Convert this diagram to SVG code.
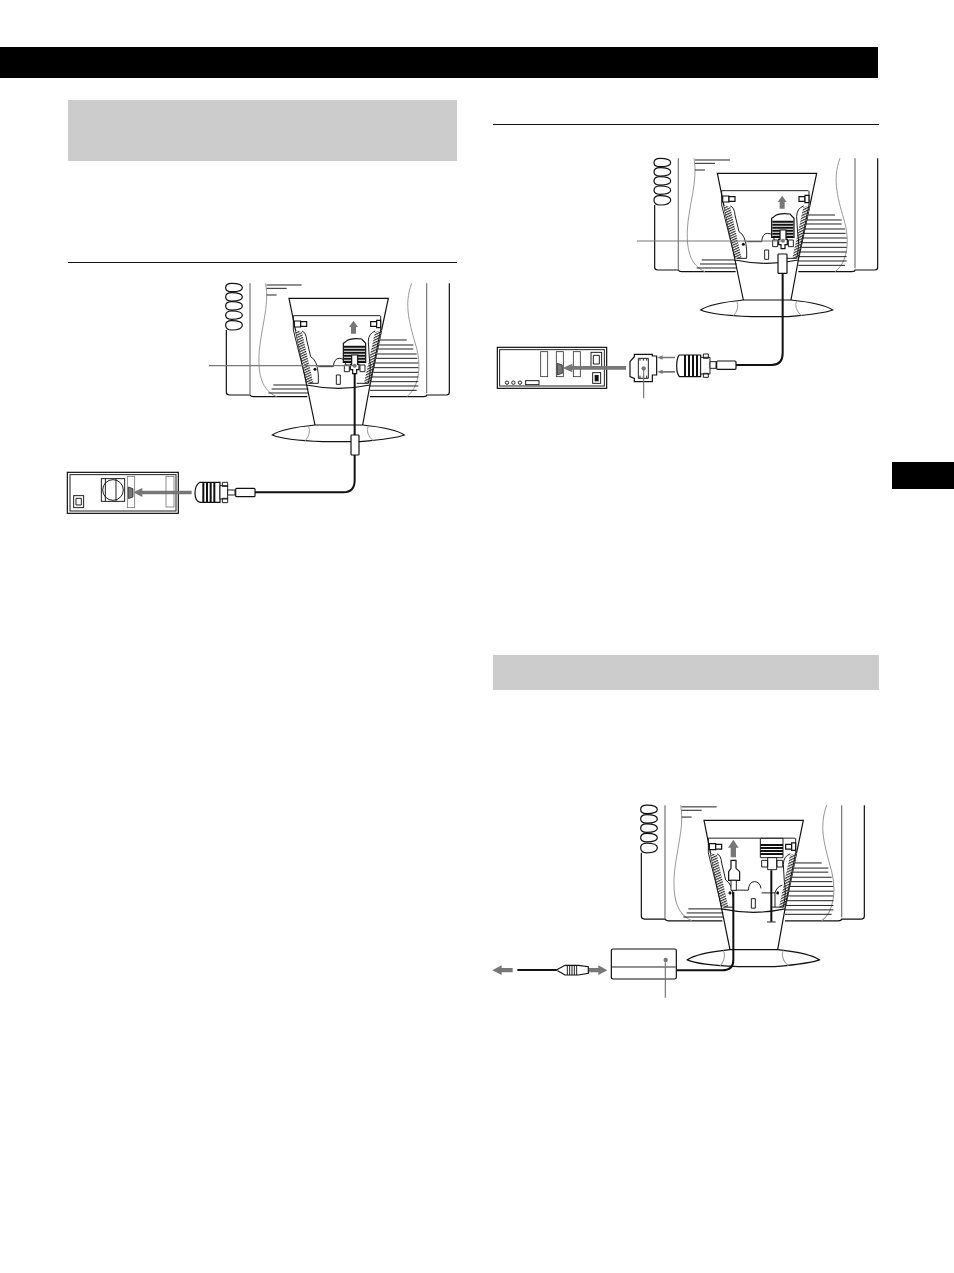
<svg xmlns="http://www.w3.org/2000/svg" width="954" height="1273" viewBox="0 0 954 1273">
<style>
.l{fill:none;stroke:#111;stroke-width:3.6}
.t{fill:none;stroke:#111;stroke-width:2.8}
.g{fill:none;stroke:#999;stroke-width:3}
.gl{fill:none;stroke:#777;stroke-width:3.6}
.w{fill:#fff;stroke:#111;stroke-width:3.6}
.wt{fill:#fff;stroke:#111;stroke-width:2.8}
.k{fill:#111}
.c{fill:none;stroke:#111;stroke-width:6}
.a{fill:#777;stroke:none}
.ld{fill:none;stroke:#777;stroke-width:3.5}
.d{fill:#777}
.s{fill:none;stroke:#111;stroke-width:6}
.bar{fill:#ccc}
</style>
<defs>
<pattern id="hatch" width="7" height="7" patternUnits="userSpaceOnUse" patternTransform="rotate(-25)">
<rect width="7" height="7" fill="#fff"/><rect width="7" height="3.500" fill="#333"/>
</pattern>
<g id="monitor">
<path class="gl" d="M570 25V358M1100 25V355"/>
<g class="l">
<path d="M499 165V352Q499 360 508 360H570Q572 365 580 365H742M930 365H1090Q1100 365 1100 360H1160Q1168 360 1168 352V25"/>
<path d="M547 38Q547 25 515 25Q497 25 497 38Q497 50 515 50Q547 50 547 38Z M547 66Q547 53 515 53Q497 53 497 66Q497 78 515 78Q547 78 547 66Z M547 93Q547 80 515 80Q497 80 497 93Q497 105 515 105Q547 105 547 93Z M547 121Q547 108 515 108Q497 108 497 121Q497 133 515 133Q547 133 547 121Z M547 150Q547 137 515 137Q497 137 497 150Q497 165 515 165Q547 165 547 150Z"/>
</g>
<path class="g" d="M617 25C630 90 600 170 597 240C595 300 605 345 650 365M1055 25C1030 90 1050 150 1070 220C1085 280 1075 340 1040 365"/>
<path class="t" d="M620 30H725M620 40H680M620 60H650M640 330H745M635 342H745M625 354H745M960 195H1040M945 210H1060M945 222H1060M945 237H1070M940 250H1072M940 264H1075M940 278H1075M940 292H1075M935 306H1075M930 320H1075M930 333H1075M930 346H1070"/>
<path class="w" d="M687 70H985L930 330Q835 350 740 330Z"/>
<path class="t" d="M700 122H960"/>
<path class="l" d="M740 330L765 450M930 330L908 450"/>
<path d="M706 165L739 325H760L726 172Z M965 165L931 325H912L945 172Z" fill="url(#hatch)"/>
<path class="t" d="M700 122V165L740 325M962 122V165L930 325"/>
<path class="t" d="M726 168Q738 172 740 195L752 245Q772 255 775 300V325H745M946 168Q925 175 925 200L928 250Q935 280 925 325H890"/>
<circle cx="765" cy="283" r="4.500" class="k"/>
<path class="t" d="M775 275H820Q822 250 838 250Q855 250 858 270"/>
<path class="wt" d="M829 300H841V328H829Z"/>
<path class="w" d="M703 138H722V156H703Z"/>
<path class="w" d="M722 140H740V154H722Z M932 140H950V154H932Z"/>
<path class="w" d="M950 136H962V158H950Z"/>
<path class="l" d="M637 480Q665 460 765 450H908Q1005 460 1033 480Q1010 490 900 500H790Q670 495 637 480Z"/>
<path class="g" d="M745 452Q755 475 735 498M925 452Q915 475 940 498"/>
</g>
<g id="vga-up">
<path class="w" d="M857 200Q870 188 905 192L917 205V262H850V205Z"/>
<path class="s" d="M852 215H915M852 224H915M852 233H915M852 242H915M852 251H915M852 260H915"/>
<path class="wt" d="M853 270H868V290H853Z M900 270H915V290H900Z"/>
<path class="w" d="M875 240H893V268H897V284H890V296H878V284H871V268H875Z"/>
<circle cx="884" cy="272" r="6" class="d"/>
</g>
<path id="up" class="a" d="M873 176H888V156H894L880.500 137L867 156H873Z"/>
</defs>

<g id="page">
<rect x="0" y="47" width="878" height="31" fill="#000"/>
<rect x="892" y="462" width="62" height="27" fill="#000"/>
<rect class="bar" x="68" y="100" width="389" height="61"/>
<rect class="bar" x="493" y="655" width="386" height="35"/>
<rect x="68" y="262" width="389" height="1" fill="#111"/>
<rect x="493" y="124" width="386" height="1" fill="#111"/>
</g>

<g id="diagram-1" transform="translate(60 275) scale(.33333)">
<g id="monitor-1"><use href="#monitor"/></g>
<g id="plug-1"><use href="#vga-up"/><use href="#up"/></g>
<g id="pc-1">
<rect class="l" x="22" y="592" width="333" height="123"/>
<rect class="t" x="30" y="599" width="318" height="109"/>
<rect class="wt" x="124" y="611" width="70" height="68"/>
<circle class="t" cx="159" cy="645" r="31"/>
<path class="t" d="M136 611V679M168 611V679"/>
<rect x="202" y="604" width="22" height="94" fill="#fff" stroke="#777" stroke-width="2.500"/>
<rect x="318" y="604" width="24" height="92" fill="#fff" stroke="#777" stroke-width="2.500"/>
<path d="M205 636L219 641V666L205 671Z" fill="#777" stroke="#111" stroke-width="2"/>
<rect class="wt" x="41" y="662" width="30" height="36"/>
<path class="t" d="M48 670H64V690H48Z"/>
</g>
<g id="plug-2">
<path class="w" d="M405 655Q405 630 420 622H480V682H420Q405 678 405 655Z"/>
<path class="s" d="M430 622V682M441 622V682M452 622V682M463 622V682"/>
<path class="wt" d="M480 632H503V672H480Z M487 622H503V634H487Z M487 670H503V683H487Z"/>
<path class="wt" d="M503 645H525V660H503Z"/>
<rect class="w" x="527" y="640" width="58" height="25" rx="3"/>
</g>
<g id="connectors-1">
<path class="c" d="M884 295V480M884 540V615Q884 652 850 652H585"/>
<rect class="w" x="873" y="480" width="24" height="60" rx="2"/>
<path class="a" d="M395 647V658H247V666L220 652L247 639V647Z"/>
<path class="ld" d="M447 272H880"/>
</g>
</g>

<g id="diagram-2" transform="translate(490 150) scale(.33333)">
<g id="monitor-2"><use href="#monitor" x="-5"/></g>
<g id="plug-3"><use href="#vga-up" x="-5"/><use href="#up" x="-4"/>
<rect class="w" x="864" y="312" width="27" height="58" rx="2"/></g>
<g id="pc-2">
<rect class="l" x="22" y="592" width="328" height="123"/>
<rect class="t" x="29" y="599" width="314" height="109"/>
<rect x="152" y="605" width="21" height="75" fill="#fff" stroke="#333" stroke-width="2.500"/>
<rect x="199" y="605" width="21" height="75" fill="#fff" stroke="#333" stroke-width="2.500"/>
<rect x="250" y="605" width="21" height="75" fill="#fff" stroke="#333" stroke-width="2.500"/>
<path d="M202 640L217 645V670L202 675Z" fill="#777" stroke="#111" stroke-width="2"/>
<rect class="wt" x="303" y="607" width="32" height="44"/>
<path class="t" d="M310 616H328V642H310Z"/>
<rect class="wt" x="308" y="668" width="24" height="32"/>
<path d="M314 675H326V694H314Z" class="k"/>
<circle class="t" cx="51" cy="698" r="5"/><circle class="t" cx="70" cy="698" r="5"/><circle class="t" cx="90" cy="698" r="5"/>
<rect class="wt" x="107" y="692" width="40" height="12"/>
</g>
<g id="adapter">
<path class="w" d="M420 635L433 620V613H487V618H500V675H487V695H433V685L420 680Z"/>
<path class="t" d="M445 625H475V685H445Z M450 625V632M460 625V632M470 625V632M450 677V685M460 677V685M470 677V685"/>
<circle cx="461" cy="655" r="6.500" class="d"/>
</g>
<g id="plug-4">
<path class="w" d="M560 648Q560 625 568 615H632V680H568Q560 670 560 648Z"/>
<path class="s" d="M585 615V680M597 615V680M609 615V680M621 615V680"/>
<path class="wt" d="M632 622H660V672H632Z M640 612H655V625H640Z M640 670H655V682H640Z"/>
<path class="wt" d="M660 635H678V655H660Z"/>
<rect class="w" x="680" y="633" width="58" height="25" rx="3"/>
</g>
<g id="connectors-2">
<path class="c" d="M878 370V610Q878 645 845 645H738"/>
<path class="a" d="M408 648V659H247V667L218 654L247 641V648Z"/>
<path class="a" d="M555 620V625H518V629L502 622.500L518 616V620Z M555 663V668H518V672L502 665.500L518 659V663Z"/>
<path class="ld" d="M441 273H878"/>
<path class="ld" d="M461 655V745"/>
</g>
</g>

<g id="diagram-3" transform="translate(485 795) scale(.33333)">
<g id="monitor-3" transform="translate(-30 5) scale(1 1.02)">
<use href="#monitor"/>
<path class="t" d="M860 283H900Q905 265 922 260"/>
<path class="t" d="M900 283V325"/>
<circle cx="908" cy="283" r="4.500" class="k"/>
</g>
<g id="plug-5">
<path class="wt" d="M826 130H894V188H826Z"/>
<path class="s" d="M826 150H894M826 159H894M826 168H894M826 177H894"/>
<path class="wt" d="M830 196H848V216H830Z M876 196H893V216H876Z M848 188H875V224H848Z"/>
<path class="w" d="M738 196H753V220L764 230V256H731V230L738 220Z"/>
<path class="wt" d="M738 256H754V286H738Z"/>
<path class="a" d="M737 187V158H729L745 134L761 158H753V187Z"/>
</g>
<g id="power-adapter">
<rect class="w" x="379" y="462" width="195" height="90" rx="5"/>
<path class="t" d="M381 516H572"/>
<circle cx="542" cy="495" r="6.500" class="d"/>
</g>
<g id="power-plug">
<path class="w" d="M214 525L240 511H280L310 515V535L280 540H240Z"/>
<path class="t" d="M247 511V540M254 511V540M261 511V540M268 511V540M275 511V540"/>
</g>
<g id="connectors-3">
<path class="c" d="M745 290V495Q745 526 712 526H576M859 226V380M97 525H215"/>
<path class="t" d="M846 381H872"/>
<path class="a" d="M83 519V532H50V540L22 525.500L50 511V519Z"/>
<path class="a" d="M312 519H340V511L367 525.500L340 540V532H312Z"/>
<path class="ld" d="M541 502V608"/>
</g>
</g>
</svg>
